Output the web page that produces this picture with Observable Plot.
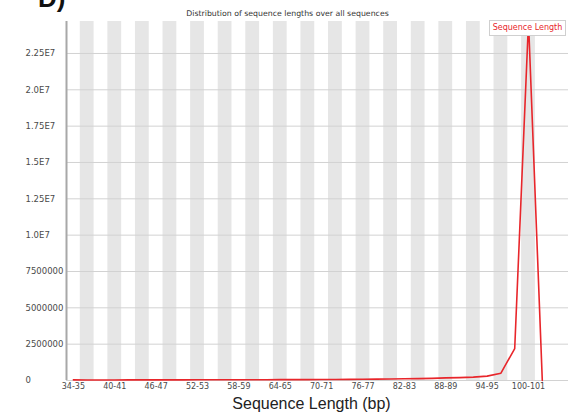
<!DOCTYPE html>
<html>
<head>
<meta charset="utf-8">
<script src="https://cdn.jsdelivr.net/npm/d3@7"></script>
<script src="https://cdn.jsdelivr.net/npm/@observablehq/plot@0.6"></script>
<style>
  html, body { margin: 0; padding: 0; background: #fff; }
  #wrap { position: relative; width: 576px; height: 420px; overflow: hidden; }
  #panel { position: absolute; left: 38px; top: -17px; font: bold 26px "Liberation Sans", Arial, sans-serif; color: #111; }
  #legend { position: absolute; left: 489px; top: 20px; width: 77px; height: 16px; box-sizing: border-box;
            border: 1px solid #cfcfcf; background: #fff; color: #e8262b; font: 8px "DejaVu Sans", sans-serif;
            text-align: center; line-height: 14px; }
</style>
</head>
<body>
<div id="wrap"></div>
<script>
const panelLabel = "D)";
const title = "Distribution of sequence lengths over all sequences";
const xLabel = "Sequence Length (bp)";
const seriesName = "Sequence Length";

const categories = ["34-35","36-37","38-39","40-41","42-43","44-45","46-47","48-49","50-51","52-53",
  "54-55","56-57","58-59","60-61","62-63","64-65","66-67","68-69","70-71","72-73",
  "74-75","76-77","78-79","80-81","82-83","84-85","86-87","88-89","90-91","92-93",
  "94-95","96-97","98-99","100-101","102-103"];
const counts = [40000,35000,35000,38000,40000,40000,42000,44000,45000,47000,
  48000,50000,52000,54000,56000,58000,60000,63000,66000,70000,
  75000,90000,95000,100000,120000,130000,145000,180000,200000,230000,
  300000,500000,2200000,24700000,0];

const yTicks = [0,2500000,5000000,7500000,10000000,12500000,15000000,17500000,20000000,22500000];
const yTickLabels = ["0","2500000","5000000","7500000","1.0E7","1.25E7","1.5E7","1.75E7","2.0E7","2.25E7"];
const xTickCategories = ["34-35","40-41","46-47","52-53","58-59","64-65","70-71","76-77","82-83","88-89","94-95","100-101"];

const rows = categories.map((c, i) => ({cat: c, i, count: counts[i]}));
const yMax = d3.max(counts);
const xTicks = xTickCategories.map(c => categories.indexOf(c) + 0.5);

const chart = Plot.plot({
  width: 576, height: 420,
  marginLeft: 66, marginRight: 8, marginTop: 21, marginBottom: 40,
  style: {fontFamily: "DejaVu Sans, sans-serif", background: "#fff"},
  x: {type: "linear", domain: [0, 36.4], axis: null},
  y: {domain: [0, yMax], axis: null},
  marks: [
    Plot.rect(rows.filter(d => d.i % 2 === 1), {x1: d => d.i, x2: d => d.i + 1, fill: "#e6e6e6"}),
    Plot.ruleY(yTicks, {stroke: "#d2d2d2", strokeWidth: 1}),
    Plot.ruleX([0], {stroke: "#a8a8a8", strokeWidth: 2}),
    Plot.line(rows, {x: d => d.i + 0.5, y: "count", stroke: "#e8262b", strokeWidth: 1.6}),
    Plot.axisY(yTicks, {tickSize: 0, tickPadding: 0, textAnchor: "start", dx: -41,
      tickFormat: (d, i) => yTickLabels[yTicks.indexOf(d)], fontSize: 8.5, fill: "#4a4a4a", label: null}),
    Plot.axisX(xTicks, {tickSize: 0, tickPadding: 3, fontSize: 8, fill: "#4a4a4a", label: null,
      tickFormat: d => categories[Math.round(d - 0.5)]}),
    Plot.text([xLabel], {frameAnchor: "bottom", dy: 28, dx: -6, fontSize: 16, fill: "#222",
      fontFamily: "Liberation Sans, Arial, sans-serif"}),
    Plot.text([title], {frameAnchor: "top", dy: -11, dx: -30, fontSize: 7.8, fill: "#333"})
  ]
});

const wrap = document.getElementById("wrap");
wrap.appendChild(chart);
const p = document.createElement("div"); p.id = "panel"; p.textContent = panelLabel; wrap.appendChild(p);
const lg = document.createElement("div"); lg.id = "legend"; lg.textContent = seriesName; wrap.appendChild(lg);
</script>
</body>
</html>
